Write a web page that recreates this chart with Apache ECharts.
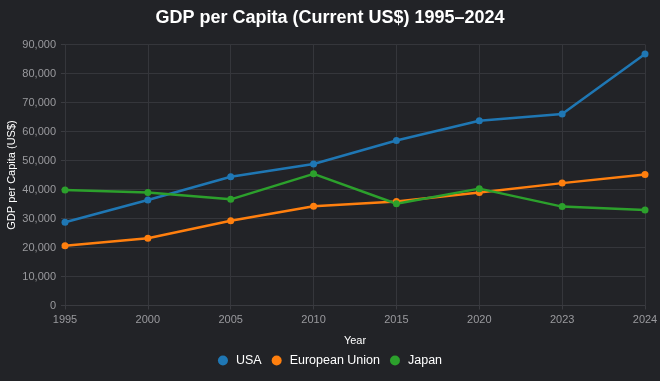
<!DOCTYPE html>
<html><head><meta charset="utf-8">
<script src="https://cdn.jsdelivr.net/npm/echarts@6/dist/echarts.min.js"></script>
<style>html,body{margin:0;padding:0;background:#222327;}#c{width:660px;height:381px;}</style>
</head><body><div id="c"></div>
<script>
const years = ['1995','2000','2005','2010','2015','2020','2023','2024'];
const usa = [28700, 36400, 44400, 48800, 56900, 63700, 66000, 86700];
const eu = [20600, 23200, 29200, 34200, 35900, 39000, 42200, 45200];
const japan = [39800, 39000, 36600, 45400, 35100, 40300, 34100, 32900];
const yTicks = {min: 0, max: 90000, interval: 10000};

const chart = echarts.init(document.getElementById('c'));
const font = 'Liberation Sans, Arial, Helvetica, sans-serif';
function mk(name, data, color) {
  return {name, type: 'line', data, symbol: 'circle', symbolSize: 7,
    lineStyle: {width: 2.5, color}, itemStyle: {color}, smooth: false};
}
chart.setOption({
  backgroundColor: '#222327',
  animation: false,
  title: {text: 'GDP per Capita (Current US$) 1995–2024', left: 'center', top: 4,
    textStyle: {color: '#ffffff', fontSize: 18, fontWeight: 'bold', fontFamily: font}},
  grid: {left: 65, right: 15, top: 44.5, bottom: 75.5, containLabel: false, outerBoundsMode: 'none'},
  legend: {bottom: 9, left: 'center', icon: 'circle', itemWidth: 10, itemHeight: 10, itemGap: 10,
    textStyle: {color: '#ffffff', fontSize: 12.5, fontFamily: font, padding: [0, 0, 0, 3]}},
  xAxis: {type: 'category', data: years, boundaryGap: false,
    name: 'Year', nameLocation: 'middle', nameGap: 30,
    nameTextStyle: {color: '#ffffff', fontSize: 11, fontFamily: font},
    axisLine: {show: true, lineStyle: {color: '#3a3b40'}},
    axisTick: {show: true, length: 4, lineStyle: {color: '#3a3b40'}},
    axisLabel: {color: '#9a9a9e', fontSize: 11, fontFamily: font, margin: 9},
    splitLine: {show: true, lineStyle: {color: '#35363b', width: 1}}},
  yAxis: {type: 'value', min: yTicks.min, max: yTicks.max, interval: yTicks.interval,
    name: 'GDP per Capita (US$)', nameLocation: 'middle', nameGap: 48, nameRotate: 90,
    nameMoveOverlap: false,
    nameTextStyle: {color: '#ffffff', fontSize: 11, fontFamily: font},
    axisLine: {show: false},
    axisTick: {show: true, length: 4, lineStyle: {color: '#3a3b40'}},
    axisLabel: {color: '#9a9a9e', fontSize: 11, fontFamily: font, margin: 9,
      formatter: v => v.toLocaleString('en-US')},
    splitLine: {show: true, lineStyle: {color: '#35363b', width: 1}}},
  series: [mk('USA', usa, '#1f77b4'), mk('European Union', eu, '#ff7f0e'), mk('Japan', japan, '#2ca02c')]
});
</script></body></html>
